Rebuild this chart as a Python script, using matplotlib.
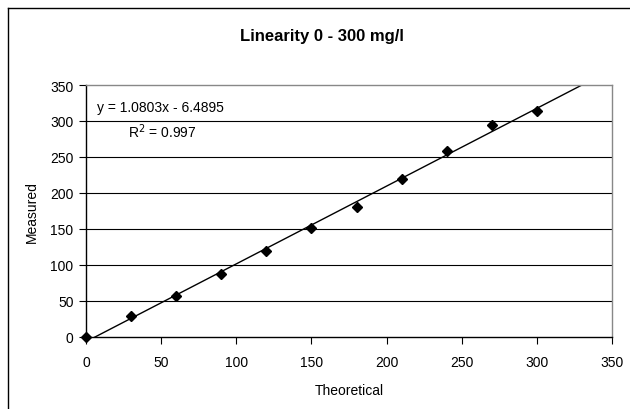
import matplotlib
matplotlib.use("Agg")
import matplotlib.pyplot as plt
from matplotlib.lines import Line2D
import numpy as np

plt.rcParams['font.family'] = ['Liberation Sans', 'DejaVu Sans']

theoretical = [0, 30, 60, 90, 120, 150, 180, 210, 240, 270, 300]
measured = [0, 29.5, 57, 88, 119, 151, 180, 219, 259, 294.5, 313.5]
slope = 1.0803
intercept = -6.4895
r2 = 0.997
xticks = [0, 50, 100, 150, 200, 250, 300, 350]
yticks = [0, 50, 100, 150, 200, 250, 300, 350]

fig = plt.figure(figsize=(6.3, 4.1), dpi=100)
ax = fig.add_axes([86/630, 1-338/410, (612-86)/630, (338-86)/410])

# figure border (left and top visible)
fig.add_artist(Line2D([8/630, 8/630], [0, 1-9/410], color='black', lw=1.0, transform=fig.transFigure))
fig.add_artist(Line2D([8/630, 1], [1-9/410, 1-9/410], color='black', lw=1.0, transform=fig.transFigure))

for y in yticks[1:-1]:
    ax.axhline(y, color='black', lw=0.8, zorder=1)

xs = np.array([0, 350])
ax.plot(xs, slope*xs + intercept, color='black', lw=1.0, zorder=2)
ax.plot(theoretical, measured, linestyle='none', marker='D', color='black',
        markersize=5.2, zorder=3, clip_on=False)

ax.set_xlim(0, 350)
ax.set_ylim(0, 350)
ax.set_xticks(xticks)
ax.set_yticks(yticks)
ax.tick_params(direction='out', length=5, width=0.8, labelsize=10, colors='black', pad=8)
ax.tick_params(axis='y', pad=4)
for s in ['left', 'bottom']:
    ax.spines[s].set_color('black')
    ax.spines[s].set_linewidth(1.0)
for s in ['right', 'top']:
    ax.spines[s].set_color('#888888')
    ax.spines[s].set_linewidth(1.0)

ax.set_xlabel('Theoretical', fontsize=10, labelpad=10)
ax.set_ylabel('Measured', fontsize=10, labelpad=8)
fig.text(322/630, 1-36/410, 'Linearity 0 - 300 mg/l', fontsize=12, fontweight='bold',
         ha='center', va='center')

fig.text(97/630, 1-108/410, f'y = {slope}x - {abs(intercept)}', fontsize=10, va='center', ha='left')
fig.text(128/630, 1-132/410, f'R$^2$ = {r2}', fontsize=10, va='center', ha='left')

fig.savefig('out.png', dpi=100)
